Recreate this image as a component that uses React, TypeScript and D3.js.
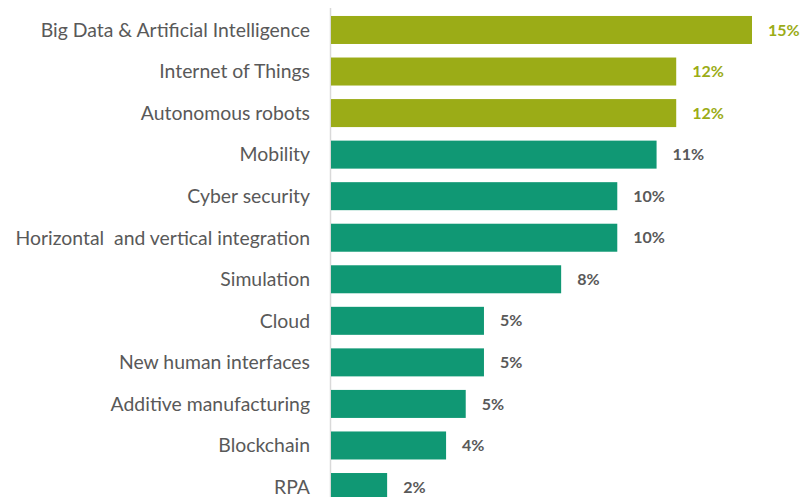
import React, { useEffect, useRef } from 'react';
import * as d3 from 'd3';

const WIDTH = 800;
const HEIGHT = 497;

const CATEGORIES = [
  'Big Data & Artificial Intelligence',
  'Internet of Things',
  'Autonomous robots',
  'Mobility',
  'Cyber security',
  'Horizontal  and vertical integration',
  'Simulation',
  'Cloud',
  'New human interfaces',
  'Additive manufacturing',
  'Blockchain',
  'RPA',
];
// bar lengths (percent)
const VALUES = [15.0, 12.3, 12.3, 11.6, 10.2, 10.2, 8.2, 5.45, 5.45, 4.8, 4.1, 2.0];
const VALUE_LABELS = ['15%', '12%', '12%', '11%', '10%', '10%', '8%', '5%', '5%', '5%', '4%', '2%'];
const HIGHLIGHT = [true, true, true, false, false, false, false, false, false, false, false, false];

const OLIVE = '#9bac17';
const TEAL = '#109874';
const GREY = '#595959';

export default function App() {
  const ref = useRef<SVGSVGElement>(null);

  useEffect(() => {
    const svg = d3.select(ref.current);
    svg.selectAll('*').remove();

    const x = d3.scaleLinear().domain([0, 15]).range([331, 752]);
    const y = d3.scaleBand<string>()
      .domain(CATEGORIES)
      .range([9.2, 9.2 + 12 * 41.55])
      .paddingInner(0.326)
      .paddingOuter(0.163);

    const data = CATEGORIES.map((c, i) => ({
      cat: c, value: VALUES[i], label: VALUE_LABELS[i], hi: HIGHLIGHT[i],
    }));

    // axis line
    svg.append('line')
      .attr('x1', 330.5).attr('x2', 330.5)
      .attr('y1', 8).attr('y2', HEIGHT)
      .attr('stroke', '#d9d9d9')
      .attr('stroke-width', 1.5);

    const row = svg.selectAll('g.row')
      .data(data)
      .enter().append('g')
      .attr('class', 'row');

    row.append('rect')
      .attr('x', x(0))
      .attr('y', d => y(d.cat)!)
      .attr('width', d => x(d.value) - x(0))
      .attr('height', y.bandwidth())
      .attr('fill', d => d.hi ? OLIVE : TEAL);

    row.append('text')
      .attr('x', 310)
      .attr('y', d => y(d.cat)! + y.bandwidth() / 2)
      .attr('dy', '0.35em')
      .attr('text-anchor', 'end')
      .attr('fill', GREY)
      .style('font-family', 'Lato, "Open Sans", sans-serif')
      .style('font-size', '19.4px')
      .style('white-space', 'pre')
      .text(d => d.cat);

    row.append('text')
      .attr('x', d => x(d.value) + 16)
      .attr('y', d => y(d.cat)! + y.bandwidth() / 2)
      .attr('dy', '0.35em')
      .attr('fill', d => d.hi ? OLIVE : GREY)
      .style('font-family', 'Lato, "Open Sans", sans-serif')
      .style('font-size', '16px')
      .style('font-weight', 'bold')
      .text(d => d.label);
  }, []);

  return (
    <svg
      ref={ref}
      width={WIDTH}
      height={HEIGHT}
      style={{ position: 'absolute', left: 0, top: 0, background: '#fff' }}
    />
  );
}
